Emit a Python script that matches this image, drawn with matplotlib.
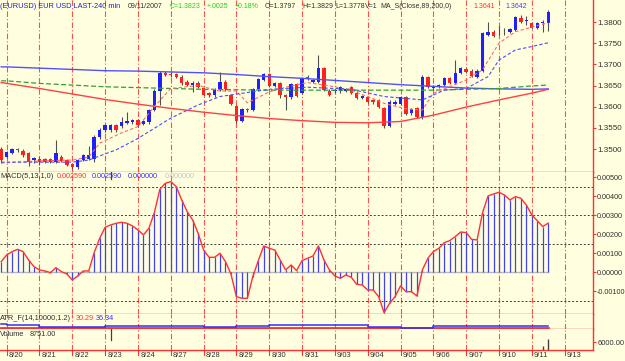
import matplotlib
matplotlib.use('Agg')
import matplotlib.pyplot as plt
from matplotlib.transforms import blended_transform_factory, ScaledTranslation
from matplotlib.ticker import FormatStrFormatter, NullLocator

# ---------------- data ----------------
opens = [1.3500, 1.3482, 1.3491, 1.3499, 1.3496, 1.3490, 1.3474, 1.3477, 1.3476, 1.3476,
         1.3470, 1.3482, 1.3474, 1.3465, 1.3457, 1.3474, 1.3476, 1.3476, 1.3528, 1.3544,
         1.3545, 1.3556, 1.3554, 1.3562, 1.3564, 1.3569, 1.3560, 1.3563, 1.3592, 1.3638,
         1.3680, 1.3678, 1.3677, 1.3671, 1.3659, 1.3652, 1.3657, 1.3644, 1.3632, 1.3627,
         1.3641, 1.3659, 1.3628, 1.3602, 1.3566, 1.3594, 1.3592, 1.3641, 1.3663, 1.3677,
         1.3650, 1.3655, 1.3628, 1.3622, 1.3654, 1.3633, 1.3671, 1.3659, 1.3659, 1.3691,
         1.3638, 1.3636, 1.3636, 1.3638, 1.3646, 1.3633, 1.3620, 1.3622, 1.3616, 1.3616,
         1.3596, 1.3554, 1.3606, 1.3606, 1.3622, 1.3584, 1.3596, 1.3576, 1.3669, 1.3643,
         1.3646, 1.3651, 1.3667, 1.3657, 1.3680, 1.3689, 1.3685, 1.3671, 1.3685, 1.3769,
         1.3777, 1.3780, 1.3780, 1.3777, 1.3781, 1.3809, 1.3803, 1.3798, 1.3787, 1.3797,
         1.3797]
highs = [1.3504, 1.3495, 1.3502, 1.3503, 1.3499, 1.3492, 1.3481, 1.3480, 1.3479, 1.3479,
         1.3521, 1.3486, 1.3477, 1.3467, 1.3476, 1.3488, 1.3507, 1.3533, 1.3550, 1.3560,
         1.3559, 1.3559, 1.3575, 1.3587, 1.3572, 1.3572, 1.3569, 1.3595, 1.3641, 1.3685,
         1.3685, 1.3681, 1.3680, 1.3674, 1.3662, 1.3660, 1.3660, 1.3647, 1.3635, 1.3644,
         1.3683, 1.3662, 1.3631, 1.3605, 1.3597, 1.3597, 1.3644, 1.3668, 1.3680, 1.3680,
         1.3658, 1.3658, 1.3631, 1.3657, 1.3657, 1.3670, 1.3674, 1.3666, 1.3722, 1.3694,
         1.3641, 1.3642, 1.3649, 1.3644, 1.3649, 1.3636, 1.3628, 1.3625, 1.3619, 1.3619,
         1.3599, 1.3615, 1.3615, 1.3625, 1.3625, 1.3597, 1.3599, 1.3674, 1.3672, 1.3652,
         1.3654, 1.3670, 1.3670, 1.3710, 1.3694, 1.3692, 1.3688, 1.3688, 1.3776, 1.3801,
         1.3780, 1.3790, 1.3786, 1.3786, 1.3814, 1.3816, 1.3814, 1.3801, 1.3801, 1.3804,
         1.3829]
lows = [1.3468, 1.3478, 1.3488, 1.3494, 1.3481, 1.3460, 1.3466, 1.3463, 1.3466, 1.3466,
        1.3466, 1.3469, 1.3459, 1.3452, 1.3452, 1.3471, 1.3473, 1.3470, 1.3524, 1.3540,
        1.3541, 1.3540, 1.3550, 1.3558, 1.3560, 1.3553, 1.3556, 1.3560, 1.3589, 1.3605,
        1.3672, 1.3670, 1.3667, 1.3652, 1.3648, 1.3635, 1.3643, 1.3625, 1.3624, 1.3624,
        1.3638, 1.3638, 1.3603, 1.3562, 1.3563, 1.3588, 1.3589, 1.3638, 1.3660, 1.3647,
        1.3647, 1.3620, 1.3592, 1.3619, 1.3622, 1.3630, 1.3664, 1.3656, 1.3656, 1.3636,
        1.3625, 1.3633, 1.3633, 1.3635, 1.3629, 1.3617, 1.3617, 1.3609, 1.3607, 1.3596,
        1.3549, 1.3551, 1.3603, 1.3603, 1.3580, 1.3581, 1.3573, 1.3572, 1.3643, 1.3640,
        1.3643, 1.3648, 1.3654, 1.3654, 1.3677, 1.3680, 1.3670, 1.3668, 1.3682, 1.3766,
        1.3764, 1.3770, 1.3769, 1.3774, 1.3778, 1.3798, 1.3792, 1.3784, 1.3784, 1.3777,
        1.3778]
closes = [1.3474, 1.3493, 1.3499, 1.3497, 1.3486, 1.3470, 1.3478, 1.3470, 1.3470, 1.3469,
          1.3491, 1.3472, 1.3462, 1.3457, 1.3474, 1.3485, 1.3486, 1.3528, 1.3545, 1.3556,
          1.3556, 1.3545, 1.3563, 1.3566, 1.3569, 1.3557, 1.3566, 1.3592, 1.3638, 1.3680,
          1.3675, 1.3674, 1.3671, 1.3655, 1.3652, 1.3657, 1.3647, 1.3628, 1.3627, 1.3641,
          1.3659, 1.3641, 1.3606, 1.3566, 1.3594, 1.3591, 1.3641, 1.3665, 1.3677, 1.3650,
          1.3655, 1.3628, 1.3622, 1.3654, 1.3625, 1.3667, 1.3667, 1.3663, 1.3691, 1.3639,
          1.3628, 1.3639, 1.3646, 1.3641, 1.3632, 1.3620, 1.3625, 1.3612, 1.3610, 1.3599,
          1.3554, 1.3612, 1.3612, 1.3622, 1.3583, 1.3594, 1.3576, 1.3671, 1.3646, 1.3649,
          1.3651, 1.3667, 1.3657, 1.3679, 1.3691, 1.3683, 1.3673, 1.3685, 1.3773, 1.3777,
          1.3767, 1.3781, 1.3781, 1.3783, 1.3811, 1.3801, 1.3805, 1.3787, 1.3798, 1.3801,
          1.3823]

# moving averages read at sample bars
ma_slow_idx = [0, 1, 7, 13, 19, 25, 31, 37, 43, 49, 55, 61, 67, 73, 79, 85, 91, 97, 100]
ma200 = [1.3694, 1.3694, 1.3691, 1.3688, 1.3685, 1.3684, 1.3682, 1.3680, 1.3676, 1.3671,
         1.3667, 1.3662, 1.3657, 1.3652, 1.3648, 1.3644, 1.3642, 1.3641, 1.3642]
ma_green = [1.3661, 1.3661, 1.3655, 1.3651, 1.3647, 1.3645, 1.3643, 1.3641, 1.3640, 1.3639,
            1.3639, 1.3639, 1.3639, 1.3639, 1.3639, 1.3641, 1.3643, 1.3649, 1.3651]
ma89 = [1.3657, 1.3655, 1.3643, 1.3630, 1.3617, 1.3606, 1.3596, 1.3587, 1.3579, 1.3572,
        1.3567, 1.3563, 1.3562, 1.3565, 1.3580, 1.3599, 1.3616, 1.3632, 1.3641]
fast_idx = [0, 7, 13, 16, 18, 22, 25, 28, 31, 36, 40, 43, 45, 49, 52, 56, 61, 64, 67, 70,
            74, 77, 79, 85, 88, 91, 94, 97, 100]
ma_fast = [1.3467, 1.3472, 1.3474, 1.3481, 1.3514, 1.3538, 1.3553, 1.3600, 1.3643, 1.3650,
           1.3637, 1.3637, 1.3609, 1.3635, 1.3646, 1.3657, 1.3647, 1.3638, 1.3624, 1.3608,
           1.3595, 1.3592, 1.3632, 1.3663, 1.3687, 1.3750, 1.3777, 1.3788, 1.3798]
med_idx = [0, 7, 13, 16, 21, 25, 31, 36, 40, 49, 56, 64, 70, 77, 81, 85, 89, 91, 94, 97, 100]
ma_med = [1.3469, 1.3469, 1.3469, 1.3474, 1.3498, 1.3525, 1.3573, 1.3604, 1.3624, 1.3641,
          1.3646, 1.3641, 1.3624, 1.3616, 1.3639, 1.3643, 1.3671, 1.3710, 1.3734, 1.3742, 1.3751]

macd = [0.000561, 0.000912, 0.001088, 0.001211, 0.001088, 0.000649, 0.000298, 0.000123, 0.000070, -0.000018,
        0.000246, 0.000035, -0.000088, -0.000404, -0.000193, 0.000070, 0.000070, 0.001035, 0.001789, 0.002368,
        0.002491, 0.002579, 0.002632, 0.002579, 0.002439, 0.002228, 0.001965, 0.002316, 0.003140, 0.004368,
        0.004684, 0.004772, 0.004509, 0.003807, 0.003193, 0.002754, 0.002053, 0.001175, 0.000789, 0.000789,
        0.001000, 0.000561, -0.000088, -0.001281, -0.001368, -0.001368, -0.000228, 0.000614, 0.001386, 0.001263,
        0.001175, 0.000649, 0.000123, 0.000386, 0.000088, 0.000614, 0.000737, 0.000860, 0.001386, 0.000649,
        0.000123, -0.000193, -0.000316, -0.000140, -0.000263, -0.000632, -0.000667, -0.000930, -0.000930, -0.001281,
        -0.002123, -0.001632, -0.001281, -0.000719, -0.001018, -0.001018, -0.001246, 0.000123, 0.000737, 0.001088,
        0.001263, 0.001561, 0.001667, 0.001877, 0.002123, 0.002088, 0.001737, 0.001702, 0.003140, 0.004018,
        0.004123, 0.004211, 0.004070, 0.003807, 0.003982, 0.003895, 0.003544, 0.003018, 0.002719, 0.002404,
        0.002590]

atr_idx = [0, 1, 7, 13, 19, 25, 31, 37, 43, 49, 55, 61, 67, 73, 79, 85, 91, 97, 100]
atr_blue = [38.3, 36.3, 32.3, 31.3, 33.3, 34.3, 34.3, 32.3, 34.3, 35.3,
            36.3, 35.3, 31.3, 30.3, 34.3, 34.3, 34.3, 33.3, 33.0]
atr_red = [30.3, 30.3, 29.3, 29.3, 30.3, 30.3, 30.3, 30.3, 30.3, 30.3,
           30.3, 30.3, 29.3, 29.3, 30.3, 30.3, 30.3, 30.3, 30.3]

vol_idx = [99, 100]
volume = [3100, 8751]

sep_idx = [1, 7, 13, 19, 25, 31, 37, 43, 49, 55, 61, 67, 73, 79, 85, 91, 97, 103]
date_labels = ['8/20', '8/21', '8/22', '8/23', '8/24', '8/27', '8/28', '8/29', '8/30',
               '8/31', '9/03', '9/04', '9/05', '9/06', '9/07', '9/10', '9/11', '9/13']
price_ticks = [1.3500, 1.3550, 1.3600, 1.3650, 1.3700, 1.3750, 1.3800]
macd_ticks = [-0.001, 0.0, 0.001, 0.002, 0.003, 0.004, 0.005]
macd_grid = [0.0045, 0.003, 0.0015, -0.0015]
vol_ticks = [6000]
cursor_idx = 20

# ---------------- style ----------------
W, H = 625, 361
BG = '#ffffe0'
RED = '#ff3030'
BLUE = '#2020ff'
DARK = '#303030'
FONT = 'Liberation Sans'
plt.rcParams['font.family'] = [FONT, 'DejaVu Sans']

fig = plt.figure(figsize=(W / 100, H / 100), dpi=100)
fig.patch.set_facecolor(BG)


def px_axes(x0, y0, x1, y1):
    return fig.add_axes([x0 / W, 1 - y1 / H, (x1 - x0) / W, (y1 - y0) / H])


XL = (-0.22, 108.19)
ax_main = px_axes(0, 0, 593, 172)
ax_macd = px_axes(0, 172, 593, 314)
ax_atr = px_axes(0, 314, 593, 329)
ax_vol = px_axes(0, 329, 593, 350)

for ax in (ax_main, ax_macd, ax_atr, ax_vol):
    ax.set_facecolor(BG)
    ax.set_xlim(*XL)
    ax.spines['top'].set_visible(False)
    ax.spines['left'].set_visible(False)
    for s in ('bottom', 'right'):
        ax.spines[s].set_color(RED)
        ax.spines[s].set_linewidth(1.0)
    ax.xaxis.set_major_locator(NullLocator())
    ax.yaxis.tick_right()
    ax.tick_params(axis='y', colors=RED, labelcolor=DARK, length=2.5, width=0.8,
                   labelsize=5.8, pad=0.5)
    for s in sep_idx:
        ax.axvline(s, color=RED, lw=0.8, ls=(0, (5, 2, 1, 2)), alpha=0.85, zorder=1)

# main panel
ax_main.set_ylim(1.344573, 1.385196)
ax_main.set_yticks(price_ticks)
ax_main.yaxis.set_major_formatter(FormatStrFormatter('%.4f'))
for i in range(len(opens)):
    o, h, l, c = opens[i], highs[i], lows[i], closes[i]
    ax_main.vlines(i, l, h, color='#505050', lw=0.8, zorder=3)
    col = BLUE if c >= o else '#ff2020'
    lo, hi = min(o, c), max(o, c)
    ax_main.bar(i, max(hi - lo, 0.00006), bottom=lo, width=0.62, color=col,
                edgecolor='none', zorder=4)
ax_main.plot(ma_slow_idx, ma200, color='#5050ff', lw=1.0, zorder=5)
ax_main.plot(ma_slow_idx, ma_green, color='#30a030', lw=0.9, ls=(0, (4, 2)), zorder=5)
ax_main.plot(ma_slow_idx, ma89, color='#ff4040', lw=1.0, zorder=5)
ax_main.plot(fast_idx, ma_fast, color='#ff6a6a', lw=0.8, ls=(0, (3, 2)), zorder=5)
ax_main.plot(med_idx, ma_med, color='#4a4aff', lw=0.8, ls=(0, (3, 2)), zorder=5)

# MACD panel
ax_macd.set_ylim(-0.002195, 0.005279)
ax_macd.set_yticks(macd_ticks)
ax_macd.yaxis.set_major_formatter(FormatStrFormatter('%.5f'))
ax_macd.tick_params(axis='y', labelsize=5.2)
for g in macd_grid:
    ax_macd.axhline(g, color='#404040', lw=0.7, ls=(0, (2, 2)), zorder=1)
idx = list(range(len(macd)))
ax_macd.plot([idx[0], idx[-1]], [0, 0], color='#b8b8b8', lw=1.0, zorder=2)
ax_macd.vlines(idx, 0, macd, color='#4040ff', lw=0.9, zorder=3)
ax_macd.plot(idx, macd, color='#ff3030', lw=1.0, zorder=4)
ax_macd.axvline(cursor_idx, ymin=(314 - 179) / 142, ymax=1.0, color='#404040', lw=0.9, zorder=6)

# ATR panel
ax_atr.set_ylim(27.3, 57.3)
ax_atr.set_yticks([])
ax_atr.plot(atr_idx, atr_red, color='#ff3030', lw=2.0, drawstyle='steps-post', zorder=3)
ax_atr.plot(atr_idx, atr_blue, color='#3030ff', lw=1.1, drawstyle='steps-post', zorder=4)

# volume panel
ax_vol.set_ylim(0, 16360)
ax_vol.set_yticks(vol_ticks)
ax_vol.yaxis.set_major_formatter(FormatStrFormatter('%.2f'))
ax_vol.tick_params(axis='y', labelsize=5.4)
ax_vol.vlines(vol_idx, 0, volume, color='#404040', lw=1.0, zorder=3)
ax_vol.axvline(cursor_idx, ymin=0.48, ymax=1.0, color='#404040', lw=0.9)
tb = blended_transform_factory(ax_vol.transData, ax_vol.transAxes)
for s in sep_idx:
    ax_vol.plot([s, s], [-0.25, 0], transform=tb, color=RED, lw=0.8, clip_on=False)

# date labels
td = blended_transform_factory(ax_vol.transData, fig.transFigure) + \
    ScaledTranslation(2.2 / 100, 0, fig.dpi_scale_trans)
for s, lab in zip(sep_idx, date_labels):
    fig.text(s, 1 - 355.5 / H, lab, transform=td, ha='left', va='center',
             fontsize=5.4, color=DARK)


def row(items, ypx):
    for xpx, txt, col, size in items:
        fig.text(xpx / W, 1 - ypx / H, txt, ha='left', va='center', fontsize=size, color=col)


GREEN = '#20d020'
row([(0, '(EURUSD) EUR USD LAST-240 min', '#2020d0', 5.3), (128, '09/11/2007', DARK, 5.0),
     (170, 'C=1.3823', GREEN, 5.0), (207, '+.0025', GREEN, 5.0), (235, '+0.18%', GREEN, 5.0),
     (265, 'O=1.3797', DARK, 5.0), (302, 'H=1.3829', DARK, 5.0), (335, 'L=1.3778', DARK, 5.0),
     (365, 'V=1', DARK, 5.0), (380, 'MA_S(Close,89,200,0)', DARK, 5.0),
     (473, '1.3641', '#ff3030', 5.0), (505, '1.3642', '#4040ff', 5.0)], 6)
row([(0, 'MACD(5,13,1,0)', DARK, 5.3), (57, '0.002590', '#ff3030', 5.2),
     (92, '0.002590', '#3030ff', 5.2), (128, '0.000000', '#3030ff', 5.2),
     (165, '0.000000', '#c0c0c0', 5.2)], 176)
row([(0, 'ATR_F(14,10000,1.2)', DARK, 5.3), (76, '30.29', '#ff3030', 5.2),
     (96, '36.34', '#3030ff', 5.2)], 319)
row([(0, 'Volume', DARK, 5.3), (30, '8751.00', DARK, 5.2)], 334.5)

fig.savefig('out.png', dpi=100, facecolor=BG)
